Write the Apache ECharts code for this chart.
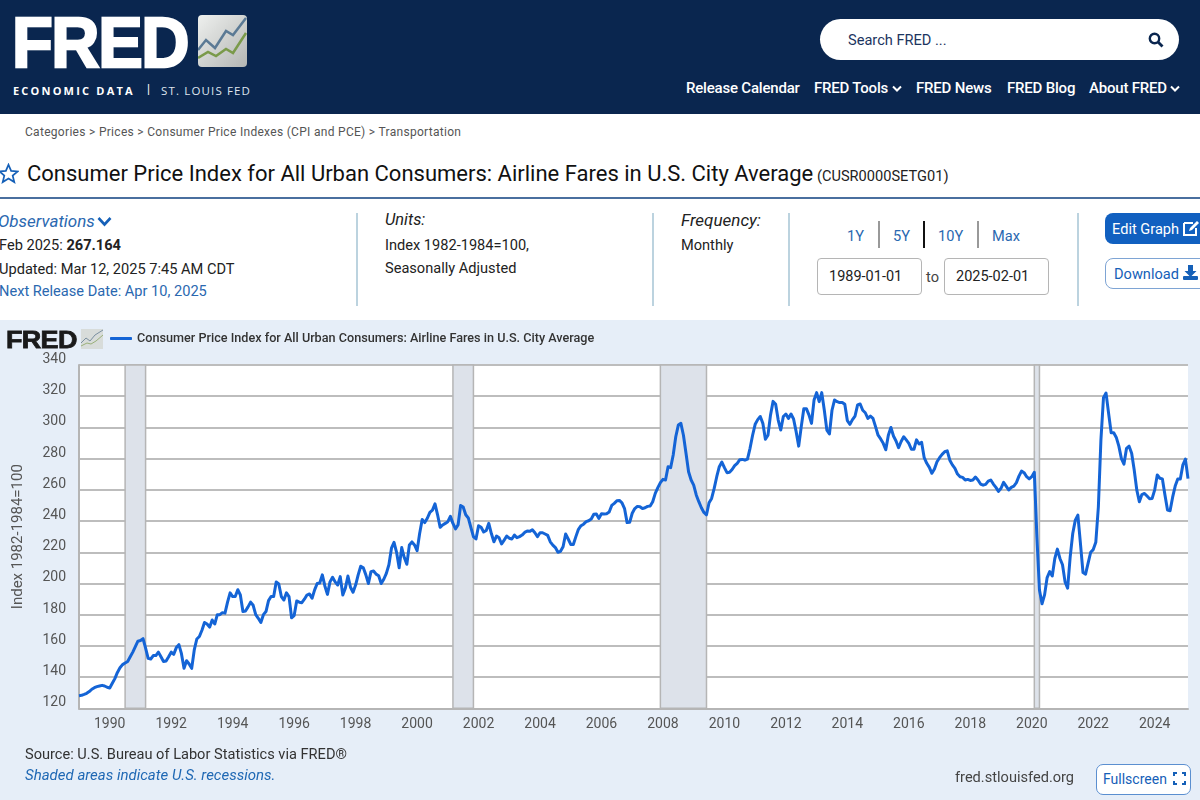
<!DOCTYPE html>
<html><head><meta charset="utf-8">
<script src="https://cdn.jsdelivr.net/npm/echarts@6/dist/echarts.min.js"></script>
<style>
html,body{margin:0;padding:0;width:1200px;height:800px;overflow:hidden;background:#fff;font-family:Roboto,sans-serif;color:#212529}
.t{position:absolute;white-space:nowrap;line-height:1}
.b{position:absolute}
a{color:inherit}
.blue{color:#2a68b0}
.vl{position:absolute;width:2px;background:#bcd3df}
.inp{position:absolute;top:258px;height:35px;width:92px;padding-left:11px;border:1px solid #b5b5b5;border-radius:4px;font-size:14.5px;line-height:36px;color:#222;background:#fff}
</style></head><body>
<div class="b" style="left:0;top:0;width:1200px;height:114px;background:#0a264f"></div>
<div class="t" style="left:12px;top:7px;font:900 71px 'Liberation Sans',sans-serif;color:#fff;letter-spacing:-1.5px;-webkit-text-stroke:2.5px #fff;line-height:71px;transform:scaleX(.94);transform-origin:0 0">FRED</div>
<svg class="b" style="left:198px;top:15px" width="50" height="53" viewBox="0 0 50 53">
<defs><linearGradient id="g" x1="0" y1="0" x2="1" y2="1"><stop offset="0" stop-color="#eef0ee"/><stop offset="1" stop-color="#b4b6b4"/></linearGradient></defs>
<rect width="49" height="52" rx="4" fill="url(#g)"/>
<polyline points="0,35 8,25 17,33 28,16 35,20 48,3" fill="none" stroke="#5b7a95" stroke-width="2.5"/>
<polyline points="0,43 10,37 18,41 28,34 35,38 48,18" fill="none" stroke="#7a9a4a" stroke-width="2.5"/></svg>
<div class="t" style="left:13px;top:83px;font:bold 11px 'Open Sans',sans-serif;color:#fff;letter-spacing:2.2px">ECONOMIC DATA</div>
<div class="t" style="left:147px;top:82px;font:12px Roboto;color:#fff">|</div>
<div class="t" style="left:161px;top:83px;font:11.5px 'Open Sans',sans-serif;color:#dfe5ee;letter-spacing:1.15px">ST. LOUIS FED</div>
<div class="b" style="left:820px;top:19px;width:359px;height:41px;border-radius:21px;background:#fff"></div>
<div class="t" style="left:848px;top:33px;font-size:14.6px;color:#1c3560">Search FRED ...</div>
<svg class="b" style="left:1148px;top:32px" width="16" height="16" viewBox="0 0 16 16"><circle cx="6.5" cy="6.5" r="4.7" fill="none" stroke="#0a264f" stroke-width="2.4"/><line x1="10" y1="10" x2="14.5" y2="14.5" stroke="#0a264f" stroke-width="2.8"/></svg>
<div class="t" style="left:686px;top:81px;font-size:15px;font-weight:500;color:#fff;letter-spacing:-.2px">Release Calendar</div>
<div class="t" style="left:814px;top:81px;font-size:15px;font-weight:500;color:#fff;letter-spacing:-.2px">FRED Tools</div>
<svg class="b" style="left:892px;top:85px" width="10" height="8"><polyline points="1,1.5 5,5.5 9,1.5" fill="none" stroke="#fff" stroke-width="2"/></svg>
<div class="t" style="left:916px;top:81px;font-size:15px;font-weight:500;color:#fff;letter-spacing:-.2px">FRED News</div>
<div class="t" style="left:1007px;top:81px;font-size:15px;font-weight:500;color:#fff;letter-spacing:-.2px">FRED Blog</div>
<div class="t" style="left:1089px;top:81px;font-size:15px;font-weight:500;color:#fff;letter-spacing:-.2px">About FRED</div>
<svg class="b" style="left:1170px;top:85px" width="10" height="8"><polyline points="1,1.5 5,5.5 9,1.5" fill="none" stroke="#fff" stroke-width="2"/></svg>

<div class="t" style="left:25px;top:126px;font-size:12px;color:#555;letter-spacing:.3px">Categories &gt; Prices &gt; Consumer Price Indexes (CPI and PCE) &gt; Transportation</div>
<svg class="b" style="left:-2px;top:163px" width="21" height="21" viewBox="0 0 24 24"><polygon points="12,2 15,9 22.5,9.6 16.8,14.4 18.6,21.8 12,17.8 5.4,21.8 7.2,14.4 1.5,9.6 9,9" fill="none" stroke="#1560b8" stroke-width="2"/></svg>
<div class="t" style="left:27px;top:163px;font-size:22px;color:#111">Consumer Price Index for All Urban Consumers: Airline Fares in U.S. City Average</div>
<div class="t" style="left:817px;top:169px;font-size:14.6px;color:#222">(CUSR0000SETG01)</div>
<div class="b" style="left:0;top:197px;width:1200px;height:2px;background:#4a6f9f"></div>

<div class="t blue" style="left:-2px;top:213px;font-size:17px;font-style:italic">Observations</div>
<svg class="b" style="left:97px;top:216px" width="15" height="11"><polyline points="1.5,2 7.5,8.5 13.5,2" fill="none" stroke="#1560b8" stroke-width="2.6"/></svg>
<div class="t" style="left:-1px;top:238px;font-size:14.6px;color:#222">Feb 2025: <b>267.164</b></div>
<div class="t" style="left:-1px;top:262px;font-size:14.6px;color:#222">Updated: Mar 12, 2025 7:45 AM CDT</div>
<div class="t blue" style="left:-1px;top:284px;font-size:14.6px">Next Release Date: Apr 10, 2025</div>
<div class="vl" style="left:356px;top:213px;height:93px"></div>
<div class="t" style="left:385px;top:212px;font-size:16.4px;font-style:italic;color:#222">Units:</div>
<div class="t" style="left:385px;top:238px;font-size:14.6px;color:#222">Index 1982-1984=100,</div>
<div class="t" style="left:385px;top:261px;font-size:14.6px;color:#222">Seasonally Adjusted</div>
<div class="vl" style="left:652px;top:213px;height:93px"></div>
<div class="t" style="left:681px;top:212px;font-size:17px;font-style:italic;color:#222">Frequency:</div>
<div class="t" style="left:681px;top:238px;font-size:14.6px;color:#222">Monthly</div>
<div class="vl" style="left:788px;top:213px;height:93px"></div>
<div class="t blue" style="left:847px;top:229px;font-size:14.6px">1Y</div>
<div class="b" style="left:878px;top:221px;width:1.5px;height:27px;background:#999"></div>
<div class="t blue" style="left:893px;top:229px;font-size:14.6px">5Y</div>
<div class="b" style="left:923px;top:221px;width:1.5px;height:27px;background:#111"></div>
<div class="t blue" style="left:938px;top:229px;font-size:14.6px">10Y</div>
<div class="b" style="left:977px;top:221px;width:1.5px;height:27px;background:#999"></div>
<div class="t blue" style="left:992px;top:229px;font-size:14.6px">Max</div>
<div class="inp" style="left:817px">1989-01-01</div>
<div class="t" style="left:926px;top:270px;font-size:14.6px;color:#444">to</div>
<div class="inp" style="left:944px">2025-02-01</div>
<div class="vl" style="left:1077px;top:213px;height:93px"></div>
<div class="b" style="left:1105px;top:213px;width:110px;height:31px;border-radius:8px;background:#1160c0"></div>
<div class="t" style="left:1112px;top:222px;font-size:14.6px;color:#fff">Edit Graph</div>
<svg class="b" style="left:1182px;top:220px" width="18" height="17" viewBox="0 0 18 17"><path d="M2 3h9M2 3v12h12V8" fill="none" stroke="#fff" stroke-width="2"/><path d="M7 11l1-3 7-7 2 2-7 7z" fill="#fff"/></svg>
<div class="b" style="left:1105px;top:258px;width:110px;height:29px;border-radius:8px;background:#fff;border:1px solid #7ea4d4"></div>
<div class="t blue" style="left:1114px;top:267px;font-size:14.6px;color:#1560b8">Download</div>
<svg class="b" style="left:1183px;top:265px" width="15" height="16" viewBox="0 0 15 16"><path d="M5 0h5v6h3.5L7.5 12 1.5 6H5z" fill="#1560b8"/><rect x="0" y="11" width="15" height="4" rx="1" fill="#1560b8"/></svg>

<div id="chart" style="position:absolute;left:0;top:320px;width:1200px;height:480px;background:#e6eef8"></div>

<div class="t" style="left:6px;top:326px;font:900 24.5px 'Liberation Sans',sans-serif;color:#1a1a1a;letter-spacing:-.6px;-webkit-text-stroke:.8px #1a1a1a;transform:scaleX(1.1);transform-origin:0 0">FRED</div>
<svg class="b" style="left:81px;top:329px" width="22" height="20" viewBox="0 0 22 20"><rect width="22" height="20" fill="#d8dcda"/><polyline points="0,14 5,9 9,12 14,6 22,1" fill="none" stroke="#7a8fa0" stroke-width="1"/><polyline points="0,17 6,14 10,15 15,12 22,6" fill="none" stroke="#9ab07a" stroke-width="1"/></svg>

<div class="t" style="left:25px;top:747px;font-size:14.6px;color:#333">Source: U.S. Bureau of Labor Statistics via FRED®</div>
<div class="t" style="left:25px;top:768px;font-size:15px;font-style:italic;color:#1f68b4">Shaded areas indicate U.S. recessions.</div>
<div class="t" style="left:955px;top:770px;font-size:14.6px;color:#444">fred.stlouisfed.org</div>
<div class="b" style="left:1096px;top:764px;width:93px;height:29px;border:1px solid #5b8fd0;border-radius:7px;background:#fff"></div>
<div class="t" style="left:1103px;top:772px;font-size:14px;color:#1560b8">Fullscreen</div>
<svg class="b" style="left:1173px;top:772px" width="13" height="13" viewBox="0 0 13 13"><path d="M1 4V1h3M9 1h3v3M12 9v3H9M4 12H1V9" fill="none" stroke="#1560b8" stroke-width="2"/></svg>

<script>
const seriesName = 'Consumer Price Index for All Urban Consumers: Airline Fares in U.S. City Average';
const startYear = 1989;
const airlineFares = [
 128.1,128.3,128.9,129.6,130.7,132.2,133.2,133.9,134.3,134.7,134.3,133.5,
 133,136,139,143,146,148,149,150,153,156,159.5,163,
 163.4,164.6,158.5,152,151.6,153.8,153.8,156,153,150,150.3,153,
 156,154.6,158.9,160.8,155,145.6,150.5,148.4,145.6,157.4,164.4,166,
 170,175,174,172,176.6,174,180,180,181.3,181,188,194,
 191.6,191.6,196,192.6,182,182.4,185,188,186,180,177.7,175,
 180,182,189,191.6,191.6,201,199.7,191.6,189.4,194,191.6,178,
 179.4,188.8,188,187.7,189.9,192.6,193.3,190.5,195.9,200,200.3,205.5,
 198.4,193,201,204,201,199,204.4,192.6,197,204.8,197.6,194.4,
 199,205.5,211,210,205.5,200,207.6,208,206,205,200,202.7,
 206.5,212,222.6,226.4,220,210,223,216.6,212.3,224.7,226.6,224.7,
 221,232,241,239,241.8,245.6,247,251,244,236,237.5,238.5,
 239.6,243,238.5,235,237.5,250,249,244,242,236,230,228.5,
 237,236,233,234,238.5,232,226.7,230.4,229.3,225.3,227.8,230.4,
 229,228.5,231,229.3,230,231,232.7,233.6,233.4,234.4,232.5,230,
 232.5,232.5,231.7,230.8,226.7,224.6,223,220,220.6,223.5,231.7,228.5,
 225,225,230,234.7,237,238,239.6,240.2,241.3,244.3,244.5,241.7,
 244.7,244.5,244.7,245.8,250,251.3,253,253.2,251.7,248,239,239.2,
 245,248,249.4,249.2,248,248.5,249.4,249.6,252.4,257.7,261.4,264.6,
 266.7,266.3,274.8,274.2,282.3,294,301.5,302.6,295,283.4,271.6,266.3,
 263,256.7,252.4,248.5,245.5,244,251.7,254.5,260.9,268.4,274.8,277.8,
 274.2,271,271.2,273,275.5,277,279.3,279.5,279,279.7,286.6,295,
 302,305,307,302.6,292.4,295,308,316.7,314.8,304.7,298.3,307,
 308.6,305.8,308.6,305.4,297.3,288,300.5,312,312,308,302.6,317.6,
 322.3,316.5,322.3,311,298.3,295.8,311,317.6,316.5,315.9,316,314.8,
 304.3,302,305,307.3,314.4,315,311,309.4,305.8,307.3,305.8,300.5,
 295,292.6,289.8,285.7,295,300,294.5,291.3,287,291,294,292,
 289.8,286,286,292,289.4,290.4,280.6,277,274.4,270.6,273.4,278,
 280.6,282.7,284.4,285,279,276,273.8,270.1,268.4,268,266.3,266.7,
 266,266.3,268.2,266.3,263.7,263,263.5,265.6,266.3,263.7,261.6,259,
 261,264.8,262.4,259.9,261.6,262.4,264.6,268.8,272,271,268.4,267,
 268.4,271.2,230,195.8,187,192.7,203.8,207.6,204.8,216,222,216,
 212,201,197,217,232,240.6,243.8,225.7,207,206,213,220,
 221.7,226.4,249,292,319,322,309,296.6,296.6,293.6,288,280,
 276.5,286.6,288,283.4,272.7,260,252.4,257,257.7,256,254.3,254.5,
 260,269.5,267.4,267,256.7,247,246.6,255.3,262.4,267,267,276,
 279.7,267.164
];
const recessionStarts = ['1990-07','2001-03','2007-12','2020-02'];
const recessionEnds   = ['1991-03','2001-11','2009-06','2020-04'];
const tickYears = [1990,1992,1994,1996,1998,2000,2002,2004,2006,2008,2010,2012,2014,2016,2018,2020,2022,2024];

const pad = n => String(n).padStart(2,'0');
const months = airlineFares.map((v,i)=>(startYear+Math.floor(i/12))+'-'+pad(i%12+1));
const chart = echarts.init(document.getElementById('chart'),null,{renderer:'canvas'});
chart.setOption({
  animation:false,
  textStyle:{fontFamily:'Roboto, sans-serif'},
  legend:{show:true,left:110,top:12,padding:0,itemWidth:22,itemHeight:3,itemGap:5,icon:'roundRect',
    data:[seriesName],textStyle:{fontSize:12.65,fontWeight:500,color:'#333'}},
  grid:{show:true,backgroundColor:'#fff',borderWidth:0,left:79,right:12,top:45,bottom:91.7,containLabel:false},
  xAxis:{type:'category',data:months,boundaryGap:false,
    axisLine:{show:true,lineStyle:{color:'#b5b5b5',width:2}},
    axisTick:{show:false},splitLine:{show:false},
    axisLabel:{interval:(i,m)=>m.endsWith('-01')&&tickYears.includes(+m.slice(0,4)),
      formatter:m=>m.slice(0,4),fontSize:14,color:'#555',margin:9,hideOverlap:false}},
  yAxis:{type:'value',min:120,max:340,interval:20,
    name:'Index 1982-1984=100',nameLocation:'middle',nameGap:53,nameTextStyle:{fontSize:15,color:'#555'},
    axisLine:{show:true,lineStyle:{color:'#b5b5b5',width:2}},axisTick:{show:false},
    splitLine:{show:true,lineStyle:{color:'#bdbdbd',width:2}},
    axisLabel:{fontSize:14,color:'#555',margin:13,verticalAlign:'bottom',lineHeight:11}},
  series:[{name:seriesName,type:'line',data:airlineFares,showSymbol:false,symbol:'none',
    lineStyle:{color:'#1464d6',width:3,join:'round'},itemStyle:{color:'#1464d6'},
    z:5,
    markArea:{silent:true,z:1,itemStyle:{color:'#dde2ea',borderColor:'#b5b5b5',borderWidth:1.5},
      data:recessionStarts.map((s,i)=>[{xAxis:s},{xAxis:recessionEnds[i]}])}}]
});
</script>
</body></html>
